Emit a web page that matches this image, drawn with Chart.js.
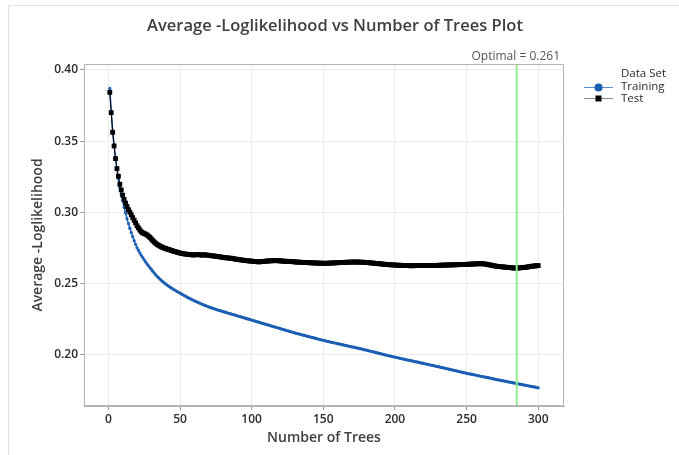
<!DOCTYPE html>
<html>
<head>
<meta charset="utf-8">
<script src="https://cdn.jsdelivr.net/npm/chart.js@4.4.1/dist/chart.umd.min.js"></script>
<style>
  html, body { margin: 0; padding: 0; background: #fff; }
  #wrap { position: relative; width: 679px; height: 455px; }
  #frame { position: absolute; left: 8px; top: 5px; right: 0; bottom: 0;
           border-left: 1px solid #e2e2e2; border-top: 1px solid #e2e2e2; }
  canvas { position: absolute; left: 0; top: 0; }
</style>
</head>
<body>
<div id="wrap">
  <div id="frame"></div>
  <canvas id="chart" width="679" height="455"></canvas>
</div>
<script>
// Average -loglikelihood per number of trees
const trees = Array.from({ length: 300 }, (_, i) => i + 1);

const training = [
  0.3870, 0.3710, 0.3570, 0.3470, 0.3380, 0.3300, 0.3235, 0.3175, 0.3125, 0.3080,
  0.3035, 0.2995, 0.2955, 0.2920, 0.2888, 0.2857, 0.2828, 0.2800, 0.2775, 0.2751,
  0.2732, 0.2714, 0.2697, 0.2681, 0.2666, 0.2651, 0.2637, 0.2624, 0.2611, 0.2599,
  0.2586, 0.2573, 0.2561, 0.2550, 0.2540, 0.2530, 0.2521, 0.2512, 0.2504, 0.2496,
  0.2488, 0.2481, 0.2474, 0.2467, 0.2461, 0.2455, 0.2449, 0.2443, 0.2437, 0.2432,
  0.2426, 0.2420, 0.2414, 0.2409, 0.2403, 0.2398, 0.2393, 0.2388, 0.2383, 0.2378,
  0.2373, 0.2369, 0.2364, 0.2360, 0.2355, 0.2351, 0.2347, 0.2343, 0.2339, 0.2335,
  0.2331, 0.2328, 0.2324, 0.2321, 0.2318, 0.2314, 0.2311, 0.2308, 0.2305, 0.2302,
  0.2299, 0.2296, 0.2293, 0.2290, 0.2287, 0.2284, 0.2281, 0.2278, 0.2275, 0.2272,
  0.2269, 0.2266, 0.2263, 0.2260, 0.2257, 0.2254, 0.2251, 0.2248, 0.2245, 0.2242,
  0.2239, 0.2236, 0.2233, 0.2230, 0.2227, 0.2224, 0.2221, 0.2218, 0.2215, 0.2212,
  0.2209, 0.2206, 0.2203, 0.2200, 0.2197, 0.2194, 0.2191, 0.2188, 0.2185, 0.2182,
  0.2179, 0.2176, 0.2173, 0.2170, 0.2167, 0.2164, 0.2161, 0.2158, 0.2155, 0.2152,
  0.2149, 0.2147, 0.2144, 0.2142, 0.2139, 0.2136, 0.2134, 0.2131, 0.2128, 0.2126,
  0.2123, 0.2120, 0.2118, 0.2115, 0.2113, 0.2110, 0.2107, 0.2105, 0.2102, 0.2100,
  0.2097, 0.2095, 0.2092, 0.2090, 0.2088, 0.2085, 0.2083, 0.2081, 0.2079, 0.2076,
  0.2074, 0.2072, 0.2070, 0.2067, 0.2065, 0.2063, 0.2061, 0.2058, 0.2056, 0.2054,
  0.2052, 0.2050, 0.2047, 0.2045, 0.2043, 0.2041, 0.2038, 0.2036, 0.2033, 0.2031,
  0.2028, 0.2026, 0.2023, 0.2021, 0.2018, 0.2016, 0.2013, 0.2011, 0.2008, 0.2006,
  0.2003, 0.2001, 0.1998, 0.1996, 0.1993, 0.1991, 0.1989, 0.1986, 0.1984, 0.1982,
  0.1979, 0.1977, 0.1975, 0.1972, 0.1970, 0.1968, 0.1966, 0.1963, 0.1961, 0.1959,
  0.1957, 0.1955, 0.1952, 0.1950, 0.1948, 0.1946, 0.1944, 0.1941, 0.1939, 0.1937,
  0.1935, 0.1933, 0.1930, 0.1928, 0.1926, 0.1924, 0.1922, 0.1919, 0.1917, 0.1915,
  0.1913, 0.1910, 0.1908, 0.1906, 0.1903, 0.1901, 0.1899, 0.1896, 0.1894, 0.1892,
  0.1889, 0.1887, 0.1885, 0.1882, 0.1880, 0.1878, 0.1875, 0.1873, 0.1871, 0.1868,
  0.1866, 0.1864, 0.1862, 0.1860, 0.1858, 0.1856, 0.1854, 0.1852, 0.1849, 0.1847,
  0.1845, 0.1843, 0.1841, 0.1839, 0.1837, 0.1835, 0.1833, 0.1830, 0.1828, 0.1826,
  0.1824, 0.1822, 0.1820, 0.1818, 0.1816, 0.1814, 0.1812, 0.1810, 0.1808, 0.1806,
  0.1804, 0.1802, 0.1800, 0.1798, 0.1796, 0.1794, 0.1792, 0.1790, 0.1788, 0.1786,
  0.1784, 0.1782, 0.1780, 0.1778, 0.1776, 0.1774, 0.1772, 0.1770, 0.1768, 0.1766,
];

const test = [
  0.3843, 0.3700, 0.3562, 0.3466, 0.3377, 0.3307, 0.3253, 0.3197, 0.3157, 0.3120,
  0.3090, 0.3064, 0.3040, 0.3018, 0.3000, 0.2982, 0.2962, 0.2943, 0.2925, 0.2905,
  0.2890, 0.2875, 0.2862, 0.2855, 0.2850, 0.2846, 0.2840, 0.2832, 0.2823, 0.2812,
  0.2801, 0.2791, 0.2782, 0.2774, 0.2768, 0.2762, 0.2757, 0.2752, 0.2748, 0.2745,
  0.2741, 0.2738, 0.2735, 0.2731, 0.2728, 0.2725, 0.2722, 0.2719, 0.2716, 0.2713,
  0.2711, 0.2709, 0.2707, 0.2706, 0.2704, 0.2703, 0.2702, 0.2701, 0.2700, 0.2700,
  0.2701, 0.2703, 0.2702, 0.2700, 0.2699, 0.2700, 0.2701, 0.2700, 0.2698, 0.2697,
  0.2695, 0.2694, 0.2694, 0.2692, 0.2690, 0.2689, 0.2688, 0.2686, 0.2684, 0.2683,
  0.2682, 0.2680, 0.2679, 0.2678, 0.2677, 0.2676, 0.2674, 0.2672, 0.2670, 0.2669,
  0.2667, 0.2666, 0.2664, 0.2663, 0.2661, 0.2660, 0.2659, 0.2658, 0.2657, 0.2656,
  0.2655, 0.2654, 0.2653, 0.2652, 0.2651, 0.2652, 0.2653, 0.2654, 0.2655, 0.2656,
  0.2657, 0.2658, 0.2658, 0.2659, 0.2659, 0.2660, 0.2660, 0.2659, 0.2659, 0.2658,
  0.2657, 0.2656, 0.2656, 0.2655, 0.2655, 0.2654, 0.2654, 0.2653, 0.2652, 0.2651,
  0.2650, 0.2650, 0.2649, 0.2648, 0.2648, 0.2647, 0.2647, 0.2646, 0.2646, 0.2645,
  0.2645, 0.2644, 0.2644, 0.2643, 0.2643, 0.2643, 0.2642, 0.2642, 0.2642, 0.2641,
  0.2641, 0.2641, 0.2642, 0.2642, 0.2643, 0.2643, 0.2644, 0.2644, 0.2645, 0.2645,
  0.2646, 0.2646, 0.2647, 0.2647, 0.2648, 0.2648, 0.2649, 0.2649, 0.2649, 0.2650,
  0.2650, 0.2650, 0.2650, 0.2650, 0.2649, 0.2649, 0.2649, 0.2648, 0.2648, 0.2647,
  0.2646, 0.2645, 0.2644, 0.2643, 0.2642, 0.2641, 0.2640, 0.2639, 0.2638, 0.2637,
  0.2636, 0.2635, 0.2634, 0.2633, 0.2632, 0.2631, 0.2631, 0.2630, 0.2629, 0.2629,
  0.2628, 0.2628, 0.2627, 0.2627, 0.2626, 0.2626, 0.2625, 0.2625, 0.2625, 0.2624,
  0.2624, 0.2624, 0.2624, 0.2625, 0.2625, 0.2625, 0.2626, 0.2626, 0.2626, 0.2626,
  0.2626, 0.2626, 0.2626, 0.2625, 0.2625, 0.2625, 0.2625, 0.2626, 0.2626, 0.2627,
  0.2627, 0.2628, 0.2628, 0.2628, 0.2629, 0.2629, 0.2629, 0.2630, 0.2630, 0.2630,
  0.2630, 0.2631, 0.2631, 0.2631, 0.2632, 0.2632, 0.2632, 0.2633, 0.2633, 0.2634,
  0.2634, 0.2635, 0.2635, 0.2636, 0.2636, 0.2637, 0.2637, 0.2638, 0.2638, 0.2638,
  0.2638, 0.2637, 0.2636, 0.2634, 0.2632, 0.2630, 0.2628, 0.2626, 0.2624, 0.2622,
  0.2620, 0.2619, 0.2618, 0.2617, 0.2616, 0.2615, 0.2614, 0.2613, 0.2612, 0.2611,
  0.2610, 0.2609, 0.2608, 0.2608, 0.2607, 0.2608, 0.2609, 0.2610, 0.2611, 0.2612,
  0.2613, 0.2614, 0.2616, 0.2618, 0.2619, 0.2621, 0.2622, 0.2623, 0.2624, 0.2625,
];

const xTicks = [0, 50, 100, 150, 200, 250, 300];
const yTicks = [0.20, 0.25, 0.30, 0.35, 0.40];
const optimalTrees = 285;
const optimalValue = 0.261;

const FONT = "'Open Sans', 'Noto Sans', sans-serif";
const COLORS = {
  training: "#1a5fb4",
  trainingLine: "#5b8fd3",
  test: "#000000",
  testLine: "#8a8a8a",
  grid: "#ececec",
  frame: "#b4b4b4",
  optimal: "#90ee90",
  text: "#2b2b2b",
  title: "#404040",
};

// title, optimal marker, legend and the closed plot frame
const decorPlugin = {
  id: "decor",
  afterDatasetsDraw(chart) {
    const { ctx, chartArea: a, scales } = chart;
    const x = scales.x.getPixelForValue(optimalTrees);
    ctx.save();
    ctx.strokeStyle = COLORS.optimal;
    ctx.lineWidth = 2;
    ctx.beginPath();
    ctx.moveTo(x, a.top);
    ctx.lineTo(x, a.bottom);
    ctx.stroke();
    ctx.strokeStyle = COLORS.frame;
    ctx.lineWidth = 1;
    ctx.strokeRect(a.left + 0.5, a.top + 0.5, a.right - a.left - 1, a.bottom - a.top - 1);
    ctx.restore();
  },
  afterDraw(chart) {
    const { ctx, chartArea: a } = chart;
    ctx.save();
    ctx.fillStyle = COLORS.title;
    ctx.font = `600 16.5px ${FONT}`;
    ctx.textAlign = "center";
    ctx.textBaseline = "middle";
    ctx.fillText("Average -Loglikelihood vs Number of Trees Plot", 335, 26);

    ctx.fillStyle = "#555";
    ctx.font = `12px ${FONT}`;
    ctx.textAlign = "right";
    ctx.fillText(`Optimal = ${optimalValue}`, a.right - 4, 57);

    // legend
    ctx.textAlign = "left";
    ctx.font = `11.5px ${FONT}`;
    ctx.fillStyle = COLORS.text;
    ctx.fillText("Data Set", 621, 74);
    ctx.fillText("Training", 621, 87);
    ctx.fillText("Test", 621, 99);

    ctx.lineWidth = 1;
    ctx.strokeStyle = COLORS.trainingLine;
    ctx.beginPath();
    ctx.moveTo(584, 87.5);
    ctx.lineTo(613, 87.5);
    ctx.stroke();
    ctx.fillStyle = COLORS.training;
    ctx.beginPath();
    ctx.arc(598.5, 87.5, 4, 0, Math.PI * 2);
    ctx.fill();

    ctx.strokeStyle = COLORS.testLine;
    ctx.beginPath();
    ctx.moveTo(584, 98.5);
    ctx.lineTo(613, 98.5);
    ctx.stroke();
    ctx.fillStyle = COLORS.test;
    ctx.fillRect(595.5, 95.5, 6, 6);
    ctx.restore();
  },
};

const ctx = document.getElementById("chart").getContext("2d");

new Chart(ctx, {
  type: "line",
  data: {
    labels: trees,
    datasets: [
      {
        label: "Training",
        data: training,
        order: 1,
        borderColor: COLORS.training,
        borderWidth: 1.5,
        pointStyle: "circle",
        pointRadius: 1.6,
        pointBorderWidth: 0,
        pointBackgroundColor: COLORS.training,
        tension: 0,
      },
      {
        label: "Test",
        data: test,
        order: 0,
        borderColor: COLORS.test,
        borderWidth: 1,
        pointStyle: "rect",
        pointRadius: 3.4,
        pointBorderWidth: 0,
        pointBackgroundColor: COLORS.test,
        tension: 0,
      },
    ],
  },
  options: {
    responsive: false,
    animation: false,
    layout: { padding: { top: 64, right: 115, left: 22, bottom: 0 } },
    plugins: {
      legend: { display: false },
      tooltip: { enabled: false },
    },
    scales: {
      x: {
        type: "linear",
        min: -17,
        max: 318,
        afterBuildTicks: (s) => { s.ticks = xTicks.map((v) => ({ value: v })); },
        afterFit: (s) => { s.height = 49; },
        grid: { color: COLORS.grid, tickColor: "#999", tickLength: 4 },
        border: { color: COLORS.frame },
        ticks: { color: COLORS.text, font: { family: FONT, size: 12, weight: "600" }, padding: 2, maxRotation: 0 },
        title: {
          display: true,
          text: "Number of Trees",
          color: COLORS.title,
          font: { family: FONT, size: 14, weight: "600" },
          padding: { top: 0, bottom: 9 },
        },
      },
      y: {
        min: 0.1638,
        max: 0.4042,
        afterBuildTicks: (s) => { s.ticks = yTicks.map((v) => ({ value: v })); },
        afterFit: (s) => { s.width = 62; },
        grid: { color: COLORS.grid, tickColor: "#999", tickLength: 4 },
        border: { color: COLORS.frame },
        ticks: {
          color: COLORS.text,
          font: { family: FONT, size: 12, weight: "600" },
          padding: 2,
          callback: (v) => v.toFixed(2),
        },
        title: {
          display: true,
          text: "Average -Loglikelihood",
          color: COLORS.title,
          font: { family: FONT, size: 14, weight: "600" },
          padding: { top: 8, bottom: 0 },
        },
      },
    },
  },
  plugins: [decorPlugin],
});
</script>
</body>
</html>
